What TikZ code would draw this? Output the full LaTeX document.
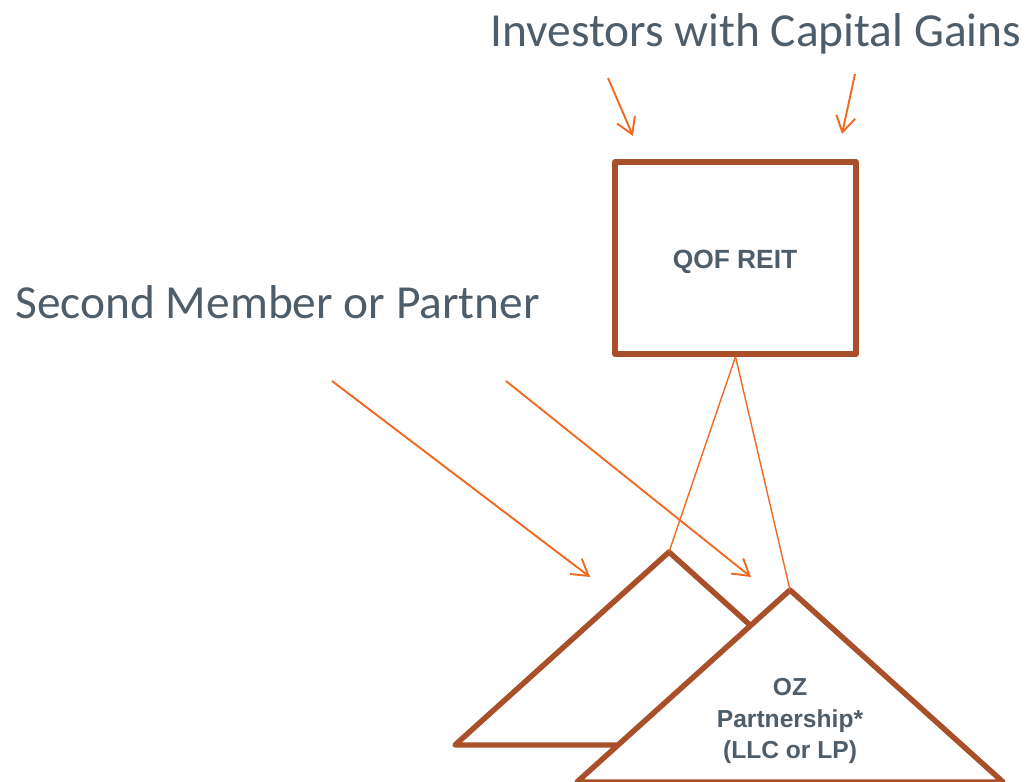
\documentclass[tikz,border=0pt]{standalone}
\usepackage{fontspec}
\setmainfont{Carlito}
\newfontfamily\arialfont{Liberation Sans}
\usepackage{tikz}
\usetikzlibrary{positioning,arrows.meta}
\definecolor{ozbrown}{HTML}{A9502A}
\definecolor{ozorange}{HTML}{F26A22}
\definecolor{ozgray}{HTML}{4E5D6A}

\tikzset{
  flow/.style={draw=ozorange,line width=1.1pt,-{Straight Barb[length=9pt,width=11pt]}},
  link/.style={draw=ozorange,line width=0.8pt},
  entity/.style={draw=ozbrown,line width=3.1pt,line join=round,line cap=round},
  heading/.style={text=ozgray,font=\fontsize{27}{32}\selectfont,inner sep=0pt},
  tag/.style={text=ozgray,font=\arialfont\bfseries\fontsize{14}{18}\selectfont,align=center,inner sep=0pt}
}

\begin{document}
\begin{tikzpicture}[x=0.02cm,y=-0.02cm]
				\useasboundingbox (0,0) rectangle (1027,781);
				% Investors on top of the REIT
				\node [heading,anchor=base west] (investors) at (490,46) {Investors with Capital Gains};
				\coordinate []  (inv1) at (608,78)  ;
				\coordinate []  (inv2) at (855,74)  ;
				\coordinate []  (invtip1) at (633,136)  ;
				\coordinate []  (invtip2) at (842,134)  ;
				\draw[flow] (inv1) -- (invtip1);
				\draw[flow] (inv2) -- (invtip2);
				\node [entity,minimum width=4.82cm,minimum height=3.84cm] (reit) at (735.5,258) {};
				\node [tag,font=\arialfont\bfseries\fontsize{15}{18}\selectfont] (reitname) at (735,262) {QOF REIT};
				% Second member
				\node [heading,anchor=base west] (second) at (15,318) {Second Member or Partner};
				\coordinate []  (sec1) at (332,381)  ;
				\coordinate []  (sec2) at (506,381)  ;
				\coordinate []  (sectip1) at (590,577)  ;
				\coordinate []  (sectip2) at (751,577)  ;
				\draw[flow] (sec1) -- (sectip1);
				\draw[flow] (sec2) -- (sectip2);
				% Back triangle
				\coordinate []  (A) at (669,552)  ;
				\coordinate []  (A1) at (455,745)  ;
				\coordinate []  (A2) at (883,745)  ;
				\filldraw[entity,fill=white] (A) -- (A1) -- (A2) -- cycle;
				% OZ partnership triangle
				\coordinate []  (B) at (790,590)  ;
				\coordinate []  (B1) at (577,782)  ;
				\coordinate []  (B2) at (1003,782)  ;
				\filldraw[entity,fill=white] (B) -- (B1) -- (B2) -- cycle;
				\node [tag] (oz) at (790,721) {OZ\\Partnership*\\(LLC or LP)};
				% REIT owns both
				\draw[link] (reit.south) -- (A);
				\draw[link] (reit.south) -- (B);
			\end{tikzpicture}
\end{document}
